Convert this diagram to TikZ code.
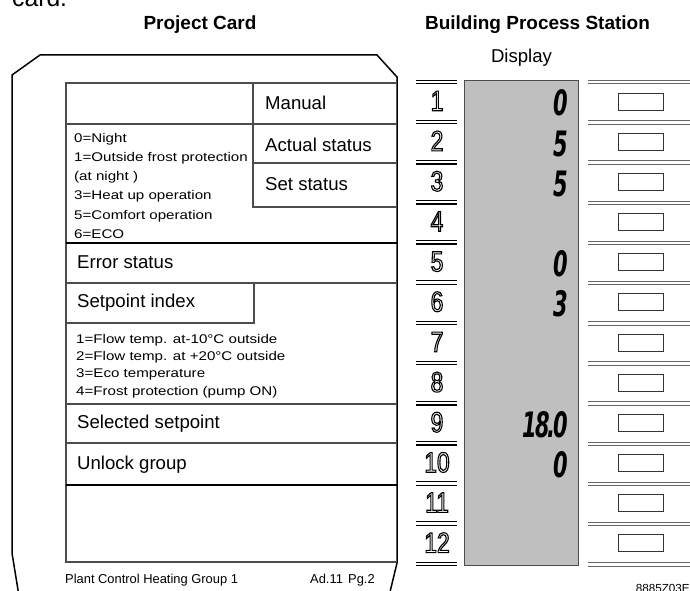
\documentclass[tikz,border=0pt]{standalone}
\usepackage{fontspec}
\setmainfont{Liberation Sans}
\newfontfamily\listfont{Liberation Sans}[FakeStretch=1.2]
\newfontfamily\numfont{Liberation Sans}[FakeStretch=0.8]
\newfontfamily\lcdfont{DejaVu Sans}[FakeStretch=0.6]
\newcommand\hollow[1]{\special{pdf:literal 1 Tr 1.1 w}#1\special{pdf:literal 0 Tr}}
\usetikzlibrary{positioning}

\begin{document}
\begin{tikzpicture}[
  x=1pt, y=-1pt,
  cardline/.style={line width=1.5pt, black},
  gridline/.style={line width=1.1pt, black!70},
  heavyline/.style={line width=1.8pt, black},
  cardtext/.style={anchor=base west, inner sep=0pt, font=\fontsize{18.6}{22}\selectfont},
  modetext/.style={anchor=base west, inner sep=0pt, font=\listfont\fontsize{12.6}{15}\selectfont},
  foot/.style={anchor=base west, inner sep=0pt, font=\fontsize{12.9}{15}\selectfont},
  heading/.style={anchor=base, inner sep=0pt, font=\bfseries\fontsize{19}{23}\selectfont},
  keynum/.style={anchor=base, inner sep=0pt, font=\numfont\fontsize{28.5}{30}\selectfont},
  lcd/.style={anchor=base east, inner sep=0pt, font=\lcdfont\bfseries\itshape\fontsize{35}{36}\selectfont},
  keybox/.style={draw=black!80, line width=0.9pt, minimum width=45pt, minimum height=17pt, inner sep=0pt},
  display/.style={draw=black!70, line width=1pt, fill=black!25, minimum width=114pt, minimum height=485pt, inner sep=0pt},
  septhin/.style={line width=0.9pt, black},
  septhick/.style={line width=1.4pt, black},
  sepgray/.style={line width=1pt, black!60}
]
\useasboundingbox (0,0) rectangle (690,591);

\node[anchor=base west, inner sep=0pt, font=\fontsize{24.7}{28}\selectfont] (prev) at (12,7) {card.};
\node[heading] (cardtitle) at (200,30) {Project Card};
\node[heading] (bpstitle) at (537.5,30) {Building Process Station};

% project card
\draw[cardline] (19,596) -- (12,553) -- (12,75) -- (40,55) -- (377,55) -- (397,77) -- (397,563) -- (389,596);
\draw[gridline] (397,83) -- (66,83) -- (66,562) -- (397,562);
\draw[gridline] (253,83) -- (253,207) -- (397,207);
\draw[gridline] (253,163) -- (397,163);
\draw[gridline] (66,323) -- (254,323) -- (254,283);
\foreach \y in {124,283,404,443}
  \draw[gridline] (66,\y) -- (397,\y);
\draw[heavyline] (66,243) -- (397,243);
\draw[heavyline] (66,485) -- (397,485);

\node[cardtext] (manual) at (265,110) {Manual};
\node[cardtext] (actual) at (265,151) {Actual status};
\node[cardtext] (setstat) at (265,190) {Set status};
\foreach \t [count=\i] in {0=Night, 1=Outside frost protection, (at night ), 3=Heat up operation, 5=Comfort operation, 6=ECO}
  \node[modetext] (mode\i) at (74,142.3+19.2*\i-19.2) {\t};
\node[cardtext] (error) at (77,268.3) {Error status};
\node[cardtext] (spindex) at (77,307) {Setpoint index};
\foreach \t [count=\i] in {1=Flow temp. at-10°C outside, 2=Flow temp. at +20°C outside, 3=Eco temperature, 4=Frost protection (pump ON)}
  \node[modetext] (sp\i) at (76,343.3+17.3*\i-17.3) {\t};
\node[cardtext] (selsp) at (77,428) {Selected setpoint};
\node[cardtext] (unlock) at (77,469) {Unlock group};
\node[foot] (plant) at (65,583) {Plant Control Heating Group 1};
\node[foot] (addr) at (310,583) {Ad.11};
\node[foot] (page) at (348,583) {Pg.2};

% process station
\node[display, anchor=north west] (disp) at (464,80) {};
\node[cardtext, anchor=base] (displabel) at (521.5,63) {Display};

\foreach \k in {0,...,12} {
  \pgfmathsetmacro\yt{80+40.17*\k}
  \draw[septhin] (416,\yt) -- (457,\yt);
  \draw[septhick] (416,\yt+3.5) -- (457,\yt+3.5);
  \draw[sepgray] (588,\yt+0.5) -- (690,\yt+0.5);
  \draw[sepgray] (588,\yt+4) -- (690,\yt+4);
}
\foreach \i in {1,...,12} {
  \pgfmathsetmacro\yt{80+40.17*(\i-1)}
  \node[keynum] (num\i) at (437,\yt+30.7) {\hollow{\i}};
  \node[keybox] (key\i) at (640.5,\yt+21.5) {};
}
\foreach \i/\v in {1/0, 2/5, 3/5, 5/0, 6/3, 10/0}
  \node[lcd] (val\i) at (568,80+40.17*\i-40.17+36) {\v};
\node[lcd] (val9) at (568,401.4+36) {1\kern-2pt8\kern-2.5pt.\kern-2.5pt0};

\node[anchor=base east, inner sep=0pt, font=\fontsize{11.7}{14}\selectfont] (figno) at (690,592) {8885Z03E};
\end{tikzpicture}
\end{document}
